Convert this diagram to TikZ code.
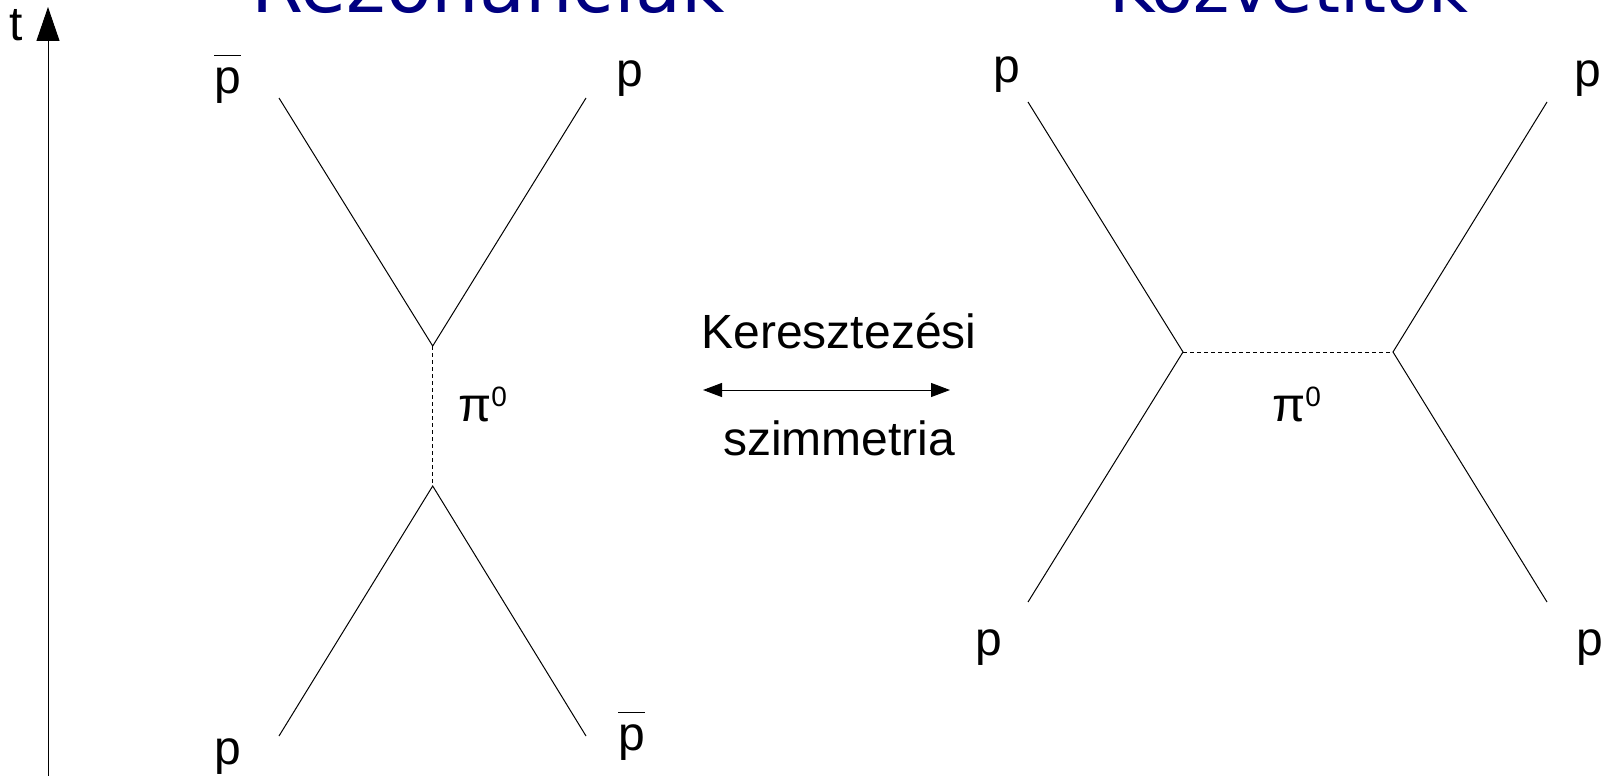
\documentclass[tikz,border=0pt]{standalone}
\usepackage{fontspec}
\setmainfont{Liberation Sans}
\newfontfamily\titlefont{DejaVu Sans}
\usetikzlibrary{arrows.meta}
\definecolor{titleblue}{HTML}{000080}
\newcommand{\antip}{\vbox{\hrule height 1.2pt\kern 11pt\hbox{p}}}
\newcommand{\pinull}{π\raisebox{15pt}{\fontsize{28}{28}\selectfont 0}}
\tikzset{
  >=latex,
  % Vonalak
  fermion/.style={line width=1pt, black},
  meson/.style={line width=1pt, black, dash pattern=on 4pt off 3pt},
  taxis/.style={line width=1pt, -{Triangle[length=34pt,width=23pt]}},
  cross arrow/.style={line width=1pt, {Triangle[length=19pt,width=14pt]}-{Triangle[length=19pt,width=14pt]}},
  % Feliratok
  lbl/.style={font=\fontsize{48}{56}\selectfont, text=black, inner sep=0, anchor=base},
  title/.style={font=\titlefont\fontsize{72}{80}\selectfont, text=titleblue, inner sep=0, anchor=base}
}

\begin{document}
\begin{tikzpicture}[x=1pt, y=-1pt]
\useasboundingbox (0,0) rectangle (1606,776);

% Idotengely
\coordinate (tbot) at (48,776);
\coordinate (ttop) at (48,7);
\draw[taxis] (tbot) -- (ttop);
\node[lbl] (tlab) at (16,41) {t};

% Cimek
\node[title, font=\titlefont\fontsize{75}{80}\selectfont] (rez) at (488,13) {Rezonanciák};
\node[title, font=\titlefont\fontsize{69}{80}\selectfont] (kozv) at (1289,13) {Közvetítők};

% Rezonanciak: s-csatorna
\coordinate (lv1) at (432.7,346);
\coordinate (lv2) at (432.7,486);
\coordinate (lTL) at (279,98);
\coordinate (lTR) at (586,98);
\coordinate (lBL) at (279,736);
\coordinate (lBR) at (586,736);
\draw[fermion] (lTL) -- (lv1) -- (lTR);
\draw[fermion] (lBL) -- (lv2) -- (lBR);
\draw[meson] (lv1) -- (lv2);
\node[lbl] (lpTL) at (227.5,93) {\antip};
\node[lbl] (lpTR) at (630,86) {p};
\node[lbl] (lpBL) at (228,764) {p};
\node[lbl] (lpBR) at (631.5,750) {\antip};
\node[lbl, anchor=base west] (lpi) at (458,421) {\pinull};

% Keresztezesi szimmetria
\coordinate (kl) at (703,390);
\coordinate (kr) at (950,390);
\draw[cross arrow] (kl) -- (kr);
\node[lbl] (ker) at (839,348) {Keresztezési};
\node[lbl] (szim) at (839,455) {szimmetria};

% Kozvetitok: t-csatorna
\coordinate (rv1) at (1183,352);
\coordinate (rv2) at (1393,352);
\coordinate (rTL) at (1028,102);
\coordinate (rTR) at (1547,102);
\coordinate (rBL) at (1028,602);
\coordinate (rBR) at (1547,602);
\draw[fermion] (rTL) -- (rv1) -- (rBL);
\draw[fermion] (rTR) -- (rv2) -- (rBR);
\draw[meson] (rv1) -- (rv2);
\node[lbl] (rpTL) at (1006.5,82) {p};
\node[lbl] (rpTR) at (1588,86) {p};
\node[lbl] (rpBL) at (989,655) {p};
\node[lbl] (rpBR) at (1590,655) {p};
\node[lbl, anchor=base west] (rpi) at (1272,421) {\pinull};

\end{tikzpicture}
\end{document}
